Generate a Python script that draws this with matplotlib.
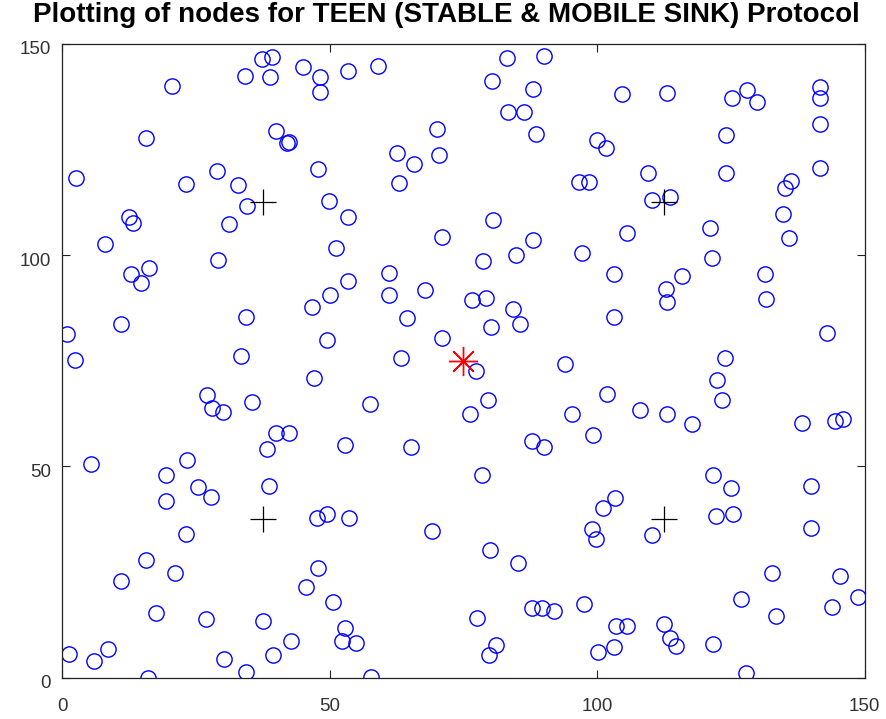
import numpy as np
import matplotlib
matplotlib.use("Agg")
import matplotlib.pyplot as plt
import matplotlib.transforms as mtransforms

# sensor node positions (m)
node_x = [37.42, 39.29, 34.19, 38.91, 45.08, 48.20, 48.20, 20.61, 15.64, 39.92,
          41.98, 42.41, 47.88, 2.56, 23.11, 29.01, 32.82, 34.62, 49.88, 12.52,
          13.21, 8.03, 31.20, 29.09, 12.89, 16.31, 14.76, 51.19, 50.07, 46.76,
          34.37, 11.02, 0.88, 2.48, 33.44, 49.50, 53.48, 59.09, 83.19, 90.04,
          80.27, 88.04, 83.37, 86.31, 88.49, 70.11, 62.64, 65.76, 70.48, 62.90,
          100.04, 96.64, 98.54, 53.48, 70.93, 80.57, 78.70, 84.81, 87.93, 97.23,
          61.14, 61.14, 53.48, 67.81, 64.51, 76.54, 79.15, 84.20, 85.56, 80.09,
          70.93, 63.42, 93.97, 77.34, 104.67, 112.96, 125.11, 128.02, 129.89, 141.60,
          141.73, 141.73, 123.99, 101.57, 141.73, 109.53, 123.99, 136.13, 135.06, 110.27,
          113.58, 134.75, 105.60, 121.05, 135.81, 121.37, 103.17, 115.77, 112.83, 112.96,
          131.33, 131.51, 103.17, 142.96, 123.85, 47.08, 27.14, 28.08, 30.02, 35.55,
          39.92, 42.46, 38.24, 5.36, 23.30, 19.43, 25.35, 27.78, 19.43, 38.67,
          47.69, 49.56, 23.11, 15.64, 21.11, 10.97, 47.88, 45.53, 50.57, 17.56,
          26.90, 37.49, 42.72, 1.36, 5.98, 8.65, 30.32, 39.47, 34.32, 16.12,
          52.87, 52.25, 54.87, 57.54, 79.53, 76.22, 95.22, 101.76, 52.87, 65.14,
          87.74, 90.10, 99.25, 78.40, 53.61, 69.18, 79.95, 85.13, 98.95, 99.76,
          77.58, 81.02, 79.77, 87.74, 89.61, 91.91, 97.51, 100.19, 57.67, 122.31,
          123.24, 107.98, 112.96, 117.63, 138.30, 144.53, 145.96, 121.67, 124.92, 122.12,
          125.41, 139.92, 139.92, 103.31, 101.12, 110.16, 132.69, 145.47, 126.97, 133.33,
          143.79, 148.76, 103.44, 105.60, 112.46, 113.58, 114.65, 121.67, 103.17, 127.72]
node_y = [146.38, 146.85, 142.43, 142.12, 144.56, 142.19, 138.50, 139.99, 127.76, 129.41,
          126.43, 126.81, 120.35, 118.15, 116.87, 119.88, 116.56, 111.59, 112.85, 109.06,
          107.64, 102.60, 107.34, 98.75, 95.43, 96.99, 93.30, 101.59, 90.42, 87.77,
          85.40, 83.67, 81.24, 75.27, 76.10, 79.89, 143.54, 144.72, 146.69, 147.09,
          141.17, 139.28, 133.91, 133.91, 128.56, 129.74, 124.06, 121.53, 123.66, 117.04,
          127.21, 117.34, 117.27, 109.06, 104.33, 108.28, 98.58, 100.00, 103.55, 100.47,
          95.67, 90.54, 93.85, 91.72, 85.16, 89.28, 89.75, 87.15, 83.74, 83.03,
          80.29, 75.63, 74.09, 72.62, 138.10, 138.26, 137.08, 139.04, 136.13, 139.82,
          137.08, 130.93, 128.39, 125.39, 120.66, 119.33, 119.33, 117.58, 115.78, 113.01,
          113.80, 109.63, 105.13, 106.32, 104.09, 99.36, 95.43, 95.10, 91.95, 88.95,
          95.43, 89.52, 85.33, 81.61, 75.63, 70.82, 66.87, 63.72, 62.92, 65.22,
          57.95, 57.95, 54.02, 50.62, 51.42, 47.94, 45.17, 42.81, 41.79, 45.41,
          37.70, 38.71, 33.91, 27.83, 24.82, 22.86, 25.86, 21.37, 17.96, 15.36,
          13.94, 13.46, 8.66, 5.51, 3.93, 6.70, 4.33, 5.35, 1.40, 0.00,
          11.67, 8.66, 8.26, 64.74, 65.69, 62.38, 62.38, 67.04, 55.04, 54.50,
          56.06, 54.50, 57.34, 47.94, 37.70, 34.69, 30.19, 27.19, 35.16, 32.73,
          14.03, 7.71, 5.35, 16.40, 16.40, 15.76, 17.42, 6.13, 0.10, 70.42,
          65.69, 63.32, 62.38, 60.01, 60.32, 60.72, 61.12, 47.94, 44.79, 38.24,
          38.64, 45.34, 35.47, 42.43, 40.06, 33.74, 24.68, 24.04, 18.53, 14.65,
          16.64, 19.14, 12.28, 12.28, 12.61, 9.30, 7.55, 7.88, 7.17, 1.02]

# sink positions: stable sink at the centre, mobile sink stops at quarter points
stable_sink = (75, 75)
mobile_x = [37.5, 37.5, 112.5, 112.5]
mobile_y = [37.5, 112.5, 37.5, 112.5]

ticks = [0, 50, 100, 150]

plt.rcParams['font.family'] = ['Liberation Sans', 'DejaVu Sans']

fig = plt.figure(figsize=(8.86, 7.19), dpi=100)
ax = fig.add_axes([0.070, 0.0576, 0.906, 0.8816])

ax.plot(node_x, node_y, 'o', color='blue', markerfacecolor='none',
        markersize=11, markeredgewidth=1.0, linestyle='none')
ax.plot(mobile_x, mobile_y, '+', color='black', markersize=19,
        markeredgewidth=0.9, linestyle='none')
ax.plot(stable_sink[0], stable_sink[1], marker=(8, 2, 0), color='red',
        markersize=21, markeredgewidth=1.0, linestyle='none')

ax.set_xlim(0, 150)
ax.set_ylim(0, 150)
ax.set_xticks(ticks)
ax.set_yticks(ticks)
ax.tick_params(direction='in', top=True, right=True, length=6, width=0.8,
               labelsize=13.5, labelcolor='#333333', color='#222222')
ax.tick_params(axis='x', pad=15)
ax.tick_params(axis='y', pad=8)
# y labels sit a little below their ticks
shift = mtransforms.ScaledTranslation(0, -4 / 100, fig.dpi_scale_trans)
for lbl in ax.get_yticklabels():
    lbl.set_transform(lbl.get_transform() + shift)
for s in ax.spines.values():
    s.set_linewidth(0.9)
    s.set_color('#222222')

fig.text(446 / 886, 1 - 22 / 719, 'Plotting of nodes for TEEN (STABLE & MOBILE SINK) Protocol',
         ha='center', va='baseline', fontsize=20, fontweight='bold')

fig.savefig('out.png', dpi=100)
